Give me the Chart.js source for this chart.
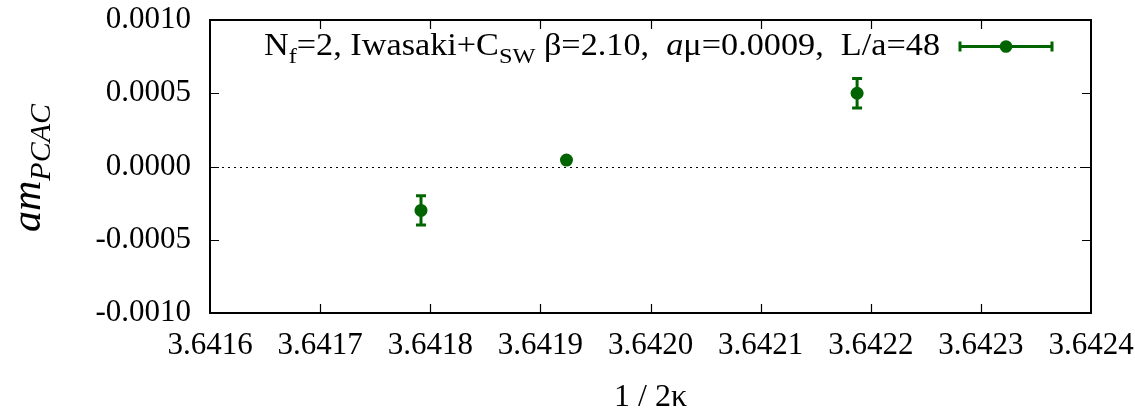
<!DOCTYPE html>
<html>
<head>
<meta charset="utf-8">
<script src="https://cdn.jsdelivr.net/npm/chart.js@4.4.0/dist/chart.umd.min.js"></script>
<style>
  html, body { margin: 0; padding: 0; background: #fff; }
  #wrap { width: 1135px; height: 408px; }
</style>
</head>
<body>
<div id="wrap"><canvas id="pcacChart" width="1135" height="408"></canvas></div>
<script>
'use strict';

// data
let invTwoKappa = [3.6417916, 3.6419237, 3.6421876];
let amPcac = [-0.0003, 0.000044, 0.0005];
let amPcacErr = [0.0001, 0.000008, 0.0001];

let xTicks = [3.6416, 3.6417, 3.6418, 3.6419, 3.6420, 3.6421, 3.6422, 3.6423, 3.6424];
let yTicks = [-0.0010, -0.0005, 0.0000, 0.0005, 0.0010];

let green = '#006400';
let serif = '"Liberation Serif", "DejaVu Serif", serif';

let points = [];
for (let i = 0; i < invTwoKappa.length; i++) {
  points.push({ x: invTwoKappa[i], y: amPcac[i] });
}

function noOverhang(s) {
  s.paddingLeft = 0;
  s.paddingRight = 0;
  s.paddingTop = 0;
  s.paddingBottom = 0;
}

// frame, inward ticks, zero line, error bars, key and titles
let gnuplotLook = {
  id: 'gnuplotLook',
  beforeDatasetsDraw(chart) {
    let ctx = chart.ctx;
    let area = chart.chartArea;
    let xs = chart.scales.x;
    let ys = chart.scales.y;
    ctx.save();

    // dotted zero line
    ctx.strokeStyle = '#000';
    ctx.lineWidth = 1;
    ctx.setLineDash([2, 4]);
    let y0 = Math.round(ys.getPixelForValue(0)) + 0.5;
    ctx.beginPath();
    ctx.moveTo(area.left, y0);
    ctx.lineTo(area.right, y0);
    ctx.stroke();
    ctx.setLineDash([]);

    // error bars
    ctx.strokeStyle = green;
    ctx.lineWidth = 3;
    for (let i = 0; i < invTwoKappa.length; i++) {
      let px = xs.getPixelForValue(invTwoKappa[i]);
      let top = ys.getPixelForValue(amPcac[i] + amPcacErr[i]);
      let bot = ys.getPixelForValue(amPcac[i] - amPcacErr[i]);
      ctx.beginPath();
      ctx.moveTo(px, top);
      ctx.lineTo(px, bot);
      ctx.moveTo(px - 5, top);
      ctx.lineTo(px + 5, top);
      ctx.moveTo(px - 5, bot);
      ctx.lineTo(px + 5, bot);
      ctx.stroke();
    }
    ctx.restore();
  },
  afterDraw(chart) {
    let ctx = chart.ctx;
    let area = chart.chartArea;
    let xs = chart.scales.x;
    let ys = chart.scales.y;
    ctx.save();

    // frame
    ctx.strokeStyle = '#000';
    ctx.lineWidth = 2;
    ctx.strokeRect(area.left, area.top, area.right - area.left, area.bottom - area.top);

    // inward ticks on all sides
    ctx.lineWidth = 1.2;
    let tl = 9;
    ctx.beginPath();
    for (let i = 1; i < xTicks.length - 1; i++) {
      let px = Math.round(xs.getPixelForValue(xTicks[i])) + 0.5;
      ctx.moveTo(px, area.bottom);
      ctx.lineTo(px, area.bottom - tl);
      ctx.moveTo(px, area.top);
      ctx.lineTo(px, area.top + tl);
    }
    for (let i = 1; i < yTicks.length - 1; i++) {
      let py = Math.round(ys.getPixelForValue(yTicks[i])) + 0.5;
      ctx.moveTo(area.left, py);
      ctx.lineTo(area.left + tl, py);
      ctx.moveTo(area.right, py);
      ctx.lineTo(area.right - tl, py);
    }
    ctx.stroke();

    // key text, stretched a little to the width of the original font
    let big = '31px ' + serif;
    let small = '22px ' + serif;
    let ital = 'italic 31px ' + serif;
    let parts = [
      { t: 'N', f: big, dy: 0 },
      { t: 'f', f: small, dy: 8 },
      { t: '=2, Iwasaki+C', f: big, dy: 0 },
      { t: 'SW', f: small, dy: 8 },
      { t: ' \u03b2=2.10,  ', f: big, dy: 0 },
      { t: 'a', f: ital, dy: 0 },
      { t: '\u03bc=0.0009,  L/a=48', f: big, dy: 0 }
    ];
    let total = 0;
    for (let p of parts) {
      ctx.font = p.f;
      p.w = ctx.measureText(p.t).width;
      total += p.w;
    }
    let keyLeft = 264;
    let keyRight = 940;
    let stretch = (keyRight - keyLeft) / total;
    ctx.save();
    ctx.translate(keyLeft, 55);
    ctx.scale(stretch, 1);
    ctx.fillStyle = '#000';
    ctx.textBaseline = 'alphabetic';
    ctx.textAlign = 'left';
    let kx = 0;
    for (let p of parts) {
      ctx.font = p.f;
      ctx.fillText(p.t, kx, p.dy);
      kx += p.w;
    }
    ctx.restore();

    // key sample
    ctx.strokeStyle = green;
    ctx.fillStyle = green;
    ctx.lineWidth = 3;
    let sy = 46.5;
    ctx.beginPath();
    ctx.moveTo(960, sy);
    ctx.lineTo(1052, sy);
    ctx.moveTo(960, sy - 5);
    ctx.lineTo(960, sy + 5);
    ctx.moveTo(1052, sy - 5);
    ctx.lineTo(1052, sy + 5);
    ctx.stroke();
    ctx.beginPath();
    ctx.arc(1006, sy, 6.3, 0, Math.PI * 2);
    ctx.fill();

    // x title
    ctx.fillStyle = '#000';
    ctx.font = '32px ' + serif;
    ctx.textAlign = 'center';
    ctx.textBaseline = 'alphabetic';
    ctx.fillText('1 / 2\u03ba', (area.left + area.right) / 2, 406);

    // y title
    ctx.save();
    ctx.translate(40, 168);
    ctx.rotate(-Math.PI / 2);
    ctx.textAlign = 'left';
    ctx.font = 'italic 42px ' + serif;
    let w1 = ctx.measureText('am').width;
    ctx.font = 'italic 30px ' + serif;
    let w2 = ctx.measureText('PCAC').width;
    let start = -(w1 + w2) / 2;
    ctx.font = 'italic 42px ' + serif;
    ctx.fillText('am', start, 0);
    ctx.font = 'italic 30px ' + serif;
    ctx.fillText('PCAC', start + w1, 10);
    ctx.restore();

    ctx.restore();
  }
};

let config = {
  type: 'scatter',
  data: {
    datasets: [{
      label: 'pcac',
      data: points,
      backgroundColor: green,
      borderColor: green,
      pointRadius: 6.5,
      pointHoverRadius: 6.5,
      borderWidth: 0
    }]
  },
  options: {
    responsive: false,
    animation: false,
    events: [],
    layout: { padding: { left: 0, right: 44, top: 20, bottom: 0 } },
    plugins: {
      legend: { display: false },
      tooltip: { enabled: false }
    },
    scales: {
      x: {
        type: 'linear',
        min: xTicks[0],
        max: xTicks[xTicks.length - 1],
        afterBuildTicks: (s) => { s.ticks = xTicks.map(v => ({ value: v })); },
        afterFit: (s) => { s.height = 95; noOverhang(s); },
        grid: { display: false, drawTicks: false },
        border: { display: false },
        ticks: {
          padding: 14,
          color: '#000',
          font: { family: serif, size: 31 },
          maxRotation: 0,
          autoSkip: false,
          callback: (v) => v.toFixed(4)
        }
      },
      y: {
        type: 'linear',
        min: yTicks[0],
        max: yTicks[yTicks.length - 1],
        afterBuildTicks: (s) => { s.ticks = yTicks.map(v => ({ value: v })); },
        afterFit: (s) => { s.width = 210; noOverhang(s); },
        grid: { display: false, drawTicks: false },
        border: { display: false },
        ticks: {
          padding: 19,
          color: '#000',
          font: { family: serif, size: 31 },
          autoSkip: false,
          callback: (v) => v.toFixed(4)
        }
      }
    }
  },
  plugins: [gnuplotLook]
};

let pcacChart = new Chart(document.getElementById('pcacChart'), config);
</script>
</body>
</html>
